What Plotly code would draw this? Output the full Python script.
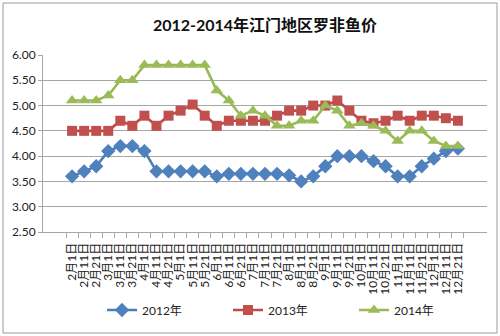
import plotly.graph_objects as go

# Category labels: every 10 days from 2月1日 to 12月21日
months = list(range(2, 13))
days = [1, 11, 21]
dates = [f"{m}月{d}日" for m in months for d in days]

price_2012 = [3.60, 3.70, 3.80, 4.10, 4.20, 4.20, 4.10, 3.70, 3.70, 3.70, 3.70,
              3.70, 3.60, 3.65, 3.65, 3.65, 3.65, 3.65, 3.62, 3.50, 3.60, 3.80,
              4.00, 4.00, 4.00, 3.90, 3.80, 3.60, 3.60, 3.80, 3.95, 4.10, 4.15]
price_2013 = [4.50, 4.50, 4.50, 4.50, 4.70, 4.60, 4.80, 4.60, 4.80, 4.90, 5.02,
              4.80, 4.60, 4.70, 4.70, 4.70, 4.70, 4.80, 4.90, 4.90, 5.00, 5.00,
              5.10, 4.90, 4.70, 4.65, 4.70, 4.80, 4.70, 4.80, 4.80, 4.75, 4.70]
price_2014 = [5.10, 5.10, 5.10, 5.20, 5.50, 5.50, 5.80, 5.80, 5.80, 5.80, 5.80,
              5.80, 5.30, 5.10, 4.80, 4.90, 4.80, 4.60, 4.60, 4.70, 4.70, 5.00,
              4.90, 4.60, 4.65, 4.60, 4.50, 4.30, 4.50, 4.50, 4.30, 4.20, 4.20]

series = [
    ("2012年", price_2012, "#4A7EBB", "#4F81BD", "diamond", 11),
    ("2013年", price_2013, "#BE4B48", "#C0504D", "square", 10),
    ("2014年", price_2014, "#98B954", "#9BBB59", "triangle-up", 11),
]

FONT = "Lato, 'Noto Sans CJK SC', sans-serif"

fig = go.Figure()
for name, vals, lc, mc, sym, size in series:
    fig.add_trace(go.Scatter(
        x=dates, y=vals, name=name, mode="lines+markers",
        line=dict(color=lc, width=2.6),
        marker=dict(symbol=sym, size=size, color=mc, line=dict(width=0)),
    ))

L, R, T, B = 43, 13, 55, 104
W, H = 500, 336
pw, ph = W - L - R, H - T - B

def px_x(x):
    return (x - L) / pw

def px_y(y):
    return (H - B - y) / ph

fig.update_layout(
    width=W, height=H,
    margin=dict(l=L, r=R, t=T, b=B, autoexpand=False),
    paper_bgcolor="white", plot_bgcolor="white",
    font=dict(family=FONT, color="#222", size=12),
    title=dict(text="<b>2012-2014年江门地区罗非鱼价</b>", x=0.5, xref="paper",
               xanchor="center", y=1 - 25 / H, yanchor="middle",
               font=dict(size=16, color="#111")),
    showlegend=True,
    legend=dict(orientation="h", x=px_x(102), xanchor="left",
                y=px_y(310), yanchor="middle", entrywidth=81,
                itemwidth=30, font=dict(size=12, color="#222"),
                bgcolor="rgba(0,0,0,0)"),
    xaxis=dict(type="category", showgrid=False, showline=True,
               linecolor="#A6A6A6", linewidth=1, ticks="outside",
               tickson="boundaries", ticklen=5, tickcolor="#A6A6A6",
               tickmode="linear", tick0=0, dtick=1, ticklabelstandoff=5,
               tickangle=-90, tickfont=dict(size=12, color="#222")),
    yaxis=dict(range=[2.5, 6.0], dtick=0.5, tickformat=".2f",
               showgrid=True, gridcolor="#A6A6A6", gridwidth=1,
               showline=True, linecolor="#A6A6A6", linewidth=1,
               ticks="outside", ticklen=4, tickcolor="#A6A6A6",
               zeroline=False, tickfont=dict(size=12, color="#222")),
    shapes=[dict(type="rect", xref="paper", yref="paper",
                 x0=px_x(3), x1=px_x(497), y0=px_y(333), y1=px_y(3),
                 line=dict(color="#9A9A9A", width=1), layer="below")],
)

fig.write_html("out.html")
